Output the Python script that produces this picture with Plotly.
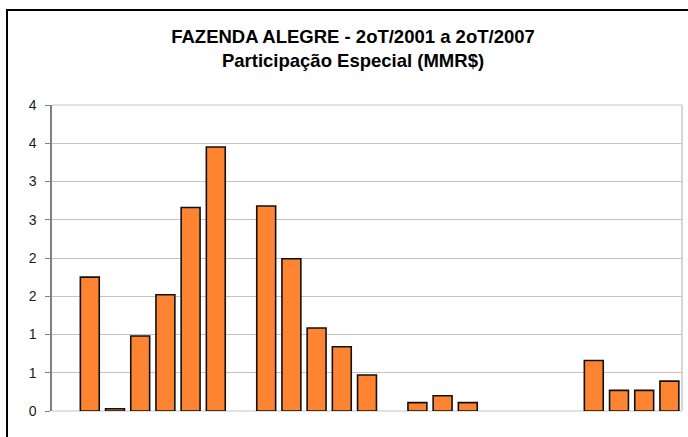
import plotly.graph_objects as go

quarters = []
for year in range(2001, 2008):
    for q in range(1, 5):
        if (year == 2001 and q < 2) or (year == 2007 and q > 2):
            continue
        quarters.append(f"{q}oT/{year}")

values = [None, 1.75, 0.03, 0.98, 1.52, 2.66, 3.45, None, 2.68, 1.99, 1.085, 0.84, 0.47,
          None, 0.11, 0.20, 0.11, None, None, None, None, 0.66, 0.27, 0.27, 0.39]

y_tickvals = [0, 0.5, 1, 1.5, 2, 2.5, 3, 3.5, 4]
y_ticktext = ["0", "1", "1", "2", "2", "3", "3", "4", "4"]

title_text = "FAZENDA ALEGRE - 2oT/2001 a 2oT/2007<br>Participação Especial (MMR$)"

W, H = 688, 437
ml, mr, mt, mb = 52, 6, 105, 26
pw = W - ml - mr
ph = H - mt - mb

def px_to_paper_x(px):
    return (px - ml) / pw

def py_to_paper_y(py):
    return (H - mb - py) / ph

fig = go.Figure(go.Bar(
    x=quarters, y=values,
    marker=dict(color="#FF8432", line=dict(color="#111111", width=1.6)),
))

fig.update_layout(
    width=W, height=H,
    margin=dict(l=ml, r=mr, t=mt, b=mb),
    paper_bgcolor="white", plot_bgcolor="white",
    bargap=0.25,
    showlegend=False,
    font=dict(family="Liberation Sans, Arial, sans-serif", color="#1a1a1a"),
    title=dict(text="<b>" + title_text + "</b>", x=353 / W, xanchor="center",
               y=1 - 43 / H, yanchor="middle",
               font=dict(size=18.5, color="#000000")),
    shapes=[
        dict(type="rect", xref="paper", yref="paper",
             x0=px_to_paper_x(7), x1=px_to_paper_x(720),
             y0=py_to_paper_y(460), y1=py_to_paper_y(10),
             line=dict(color="#000000", width=2), fillcolor="rgba(0,0,0,0)", layer="below"),
        dict(type="line", xref="paper", yref="paper", x0=1, x1=1, y0=0, y1=1,
             line=dict(color="#c8c8c8", width=1.5), layer="below"),
        dict(type="line", xref="paper", yref="paper", x0=0, x1=1, y0=1, y1=1,
             line=dict(color="#c4c4c4", width=1), layer="below"),
        dict(type="line", xref="paper", yref="paper", x0=0, x1=1, y0=0, y1=0,
             line=dict(color="#c4c4c4", width=1), layer="below"),
    ],
)

fig.update_xaxes(showticklabels=False, showgrid=False, ticks="", showline=False,
                 zeroline=False)
fig.update_yaxes(range=[0, 4], tickvals=y_tickvals, ticktext=y_ticktext,
                 showgrid=True, gridcolor="#c4c4c4", gridwidth=1,
                 zeroline=False, showline=True, linecolor="#808080", linewidth=1.5,
                 ticks="outside", ticklen=5, tickcolor="#808080", tickwidth=1,
                 tickfont=dict(size=14, color="#1a1a1a"), ticklabelstandoff=6)

fig.write_html("out.html", config={"displayModeBar": False},
               post_script="document.body.style.margin='0';document.body.style.overflow='hidden';")
